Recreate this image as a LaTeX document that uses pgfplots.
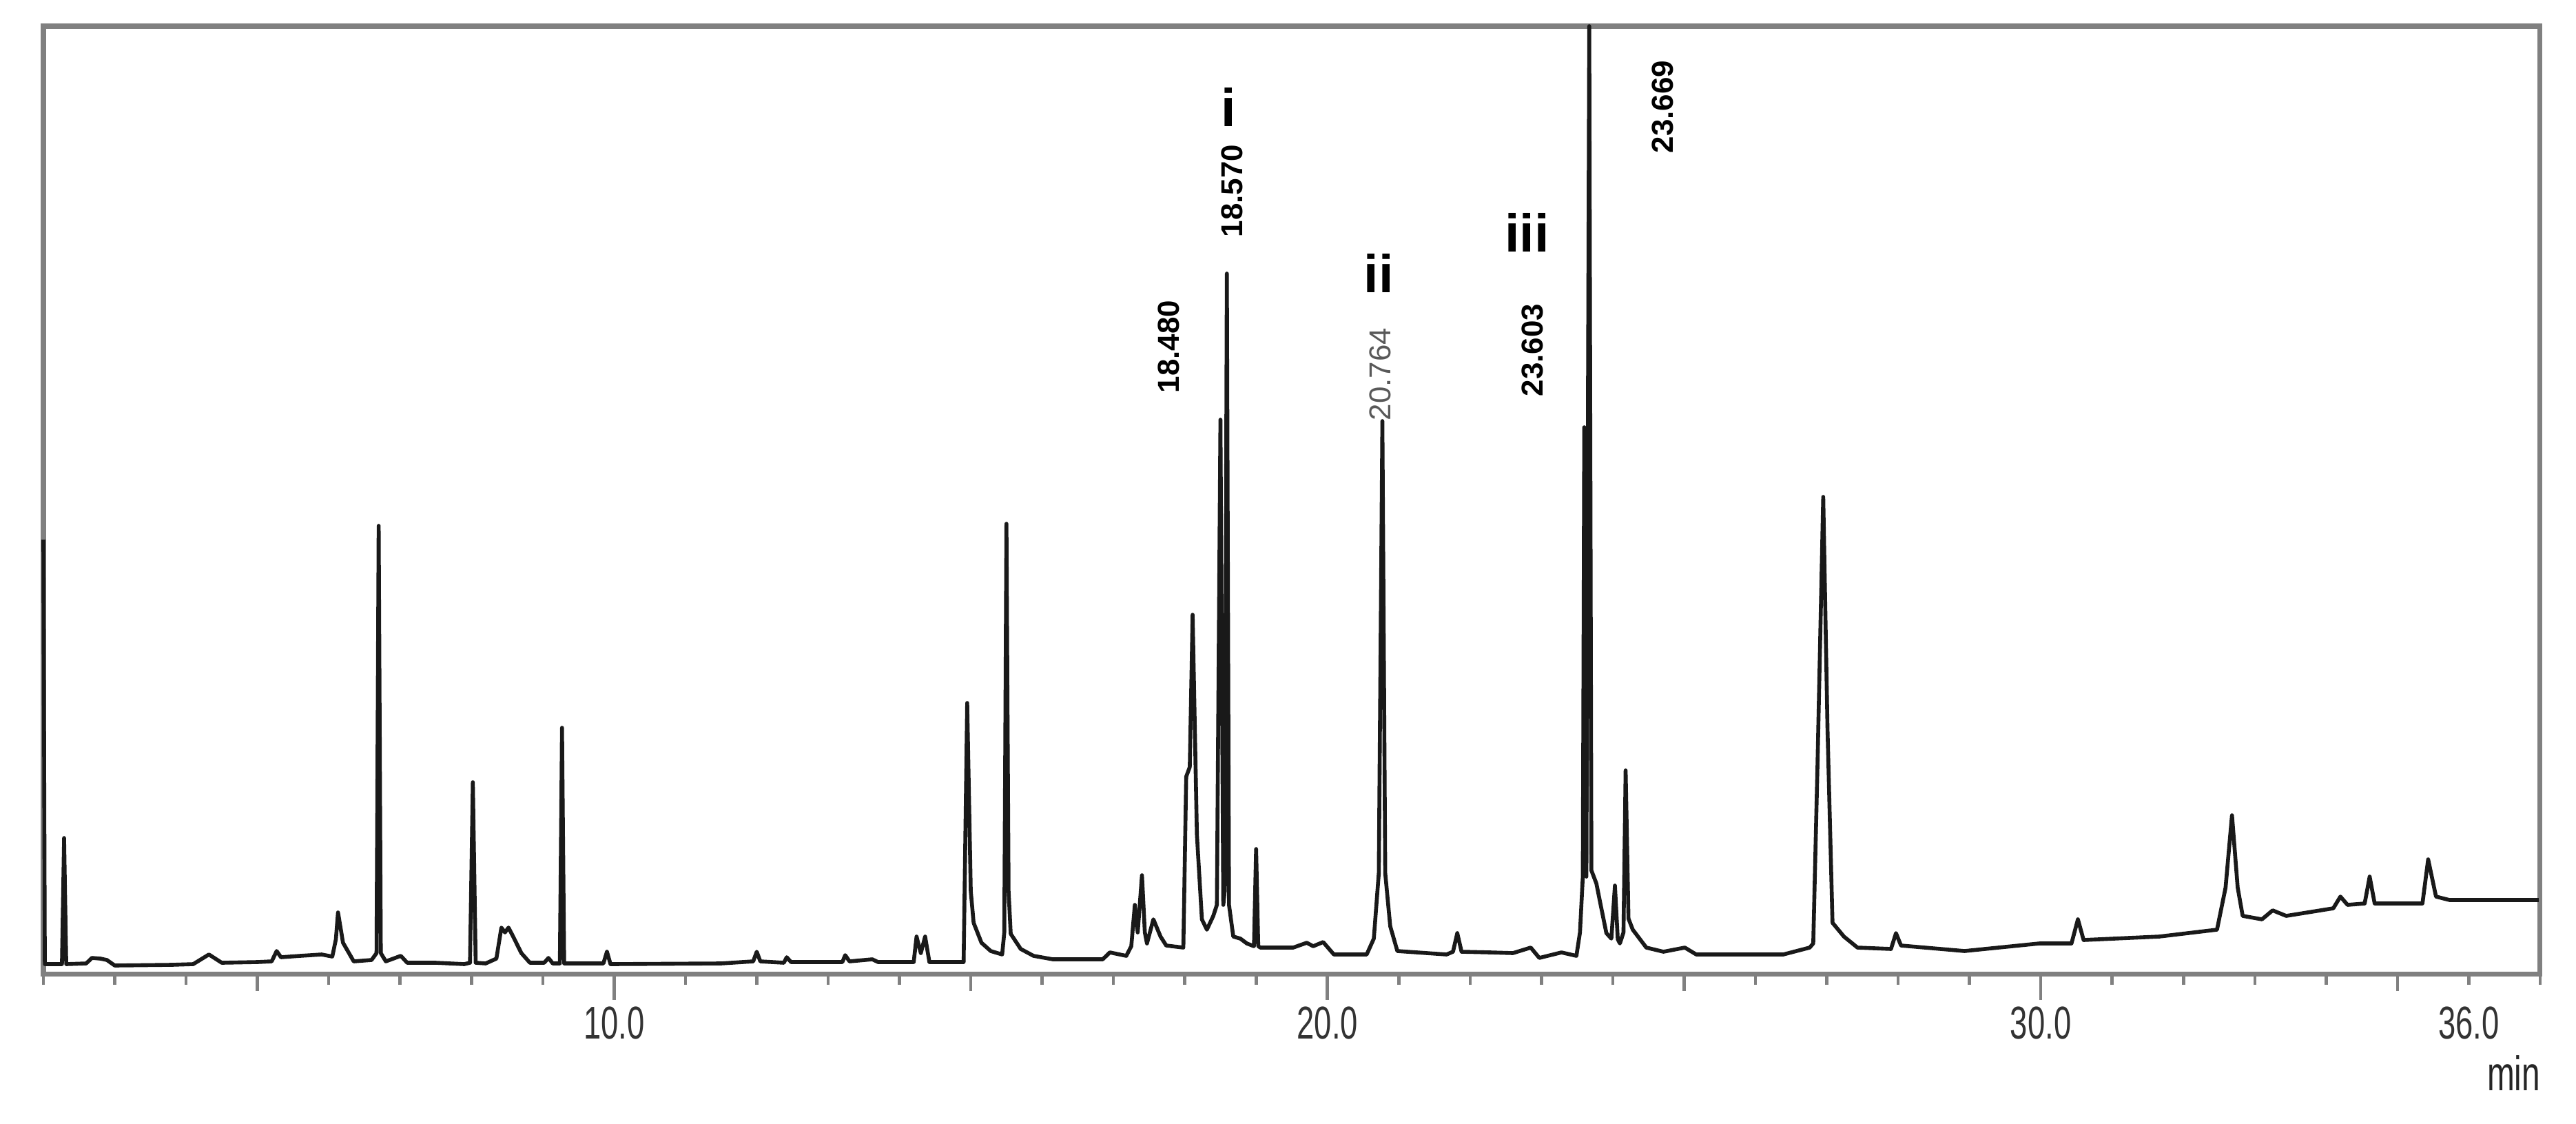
\documentclass[border=0pt]{standalone}
\usepackage{fontspec}
\setmainfont{Liberation Sans}
\newfontfamily\narrow[FakeStretch=0.68]{Liberation Sans}
\usepackage{pgfplots}
\pgfplotsset{compat=1.18}
\begin{document}
\begin{tikzpicture}
\path[use as bounding box] (-0.63cm,-2.17cm) rectangle (36.76cm,14.13cm);
\begin{axis}[
  at={(0,0)}, anchor=south west,
  scale only axis, width=36.24cm, height=13.75cm,
  xmin=2, xmax=37, ymin=0, ymax=1375,
  clip=false,
  axis line style={draw=gray, line width=2pt},
  xtick={10,20,30}, xticklabels={},
  extra x ticks={5,15,25,35}, extra x tick labels={},
  extra x tick style={major tick length=0.25cm},
  minor xtick={2,3,4,6,7,8,9,11,12,13,14,16,17,18,19,21,22,23,24,26,27,28,29,31,32,33,34,36,37},
  major tick length=0.38cm, minor tick length=0.16cm,
  tick align=outside, xtick pos=left,
  ytick=\empty,
  tick style={draw=gray, line width=1.3pt},
]
\addplot[black!90, line width=1.6pt, line join=round] coordinates {
(2.00,630)(2.02,14)(2.20,14)(2.26,14)(2.29,197)(2.32,14)
(2.60,15)(2.68,23)(2.80,22)(2.89,20)(3.00,12)
(3.80,13)(4.10,14)(4.32,28)(4.50,16)
(5.00,17)(5.20,18)(5.27,33)(5.33,24)(5.60,26)(5.90,28)(6.05,25)(6.10,50)(6.13,89)(6.20,45)(6.35,18)
(6.60,20)(6.67,30)(6.70,650)(6.73,30)(6.80,18)
(7.01,26)(7.10,16)(7.50,16)(7.90,14)(7.98,16)(8.02,278)(8.06,16)(8.20,15)(8.35,22)(8.42,67)(8.47,60)(8.52,67)(8.58,55)(8.70,30)(8.82,16)
(9.02,16)(9.08,23)(9.14,15)(9.24,15)(9.27,357)(9.30,15)
(9.85,15)(9.90,32)(9.95,14)
(11.5,15)(11.95,18)(12.00,32)(12.05,18)(12.38,16)(12.42,24)(12.48,17)(13.20,17)(13.24,27)(13.30,18)(13.62,21)(13.70,17)
(14.20,17)(14.24,54)(14.30,30)(14.36,54)(14.42,17)
(14.90,17)(14.95,393)(15.00,120)(15.04,74)(15.15,45)(15.28,33)(15.44,28)(15.47,60)(15.50,653)(15.53,120)(15.56,58)(15.70,36)(15.88,26)
(16.15,21)(16.85,21)(16.95,31)(17.18,26)(17.25,40)(17.30,100)(17.34,60)(17.40,143)(17.44,60)(17.47,44)(17.56,79)(17.66,54)(17.74,41)(17.98,38)
(18.02,286)(18.07,300)(18.11,521)(18.17,202)(18.24,79)(18.31,64)(18.40,84)(18.45,100)(18.50,804)(18.54,100)(18.56,120)(18.59,1016)(18.62,100)
(18.68,54)(18.78,51)(18.87,44)(18.97,40)(19.00,181)(19.03,40)(19.06,38)
(19.52,38)(19.71,45)(19.80,40)(19.94,46)(20.09,28)(20.55,28)(20.65,51)(20.72,146)(20.77,802)(20.81,146)(20.88,69)(20.98,33)
(21.67,28)(21.76,32)(21.82,59)(21.88,32)(22.28,31)(22.60,30)(22.85,38)(22.97,23)(23.28,31)(23.49,26)(23.54,60)(23.58,141)
(23.60,793)(23.63,141)(23.67,1375)(23.70,150)(23.77,131)(23.82,105)(23.91,59)(23.98,51)(24.03,128)(24.07,50)(24.10,44)(24.15,60)(24.18,295)(24.22,80)(24.28,64)
(24.47,38)(24.71,32)(25.01,38)(25.17,28)(26.39,28)(26.76,38)(26.81,44)(26.87,304)(26.95,692)(27.01,355)(27.08,74)(27.24,54)(27.43,38)
(27.90,36)(27.97,59)(28.04,41)(28.93,33)(29.98,44)(30.43,44)(30.52,79)(30.60,49)(31.66,54)(32.47,64)(32.59,125)(32.68,230)(32.76,125)(32.83,84)
(33.10,79)(33.25,92)(33.44,84)(34.10,95)(34.20,112)(34.30,100)(34.54,102)(34.61,141)(34.68,102)(35.35,102)(35.43,166)(35.54,112)(35.73,107)(36.98,107)
};
% tick labels
\node[anchor=north, inner sep=0pt, yshift=-0.47cm, text=black!80, font=\narrow\fontsize{19pt}{19pt}\selectfont] at (axis cs:10,0) {10.0};
\node[anchor=north, inner sep=0pt, yshift=-0.47cm, text=black!80, font=\narrow\fontsize{19pt}{19pt}\selectfont] at (axis cs:20,0) {20.0};
\node[anchor=north, inner sep=0pt, yshift=-0.47cm, text=black!80, font=\narrow\fontsize{19pt}{19pt}\selectfont] at (axis cs:30,0) {30.0};
\node[anchor=north, inner sep=0pt, yshift=-0.47cm, text=black!80, font=\narrow\fontsize{19pt}{19pt}\selectfont] at (axis cs:36,0) {36.0};
\node[anchor=base, inner sep=0pt, yshift=-1.69cm, text=black!85, font=\narrow\fontsize{20pt}{20pt}\selectfont] at (axis cs:36.63,0) {min};
% peak labels
\node[rotate=90, font=\bfseries\fontsize{12.5pt}{12.5pt}\selectfont] at (axis cs:17.775,910) {18.480};
\node[rotate=90, font=\bfseries\fontsize{12.5pt}{12.5pt}\selectfont] at (axis cs:18.663,1136) {18.570};
\node[rotate=90, text=black!65, font=\fontsize{12.5pt}{12.5pt}\selectfont] at (axis cs:20.740,870) {20.764};
\node[rotate=90, font=\bfseries\fontsize{12.5pt}{12.5pt}\selectfont] at (axis cs:22.874,905) {23.603};
\node[rotate=90, font=\bfseries\fontsize{12.5pt}{12.5pt}\selectfont] at (axis cs:24.700,1258) {23.669};
\node[font=\bfseries\fontsize{22pt}{22pt}\selectfont] at (axis cs:18.615,1258) {i};
\node[font=\bfseries\fontsize{22pt}{22pt}\selectfont] at (axis cs:20.720,1017) {ii};
\node[font=\bfseries\fontsize{22pt}{22pt}\selectfont] at (axis cs:22.797,1076) {iii};
\end{axis}
\end{tikzpicture}
\end{document}
